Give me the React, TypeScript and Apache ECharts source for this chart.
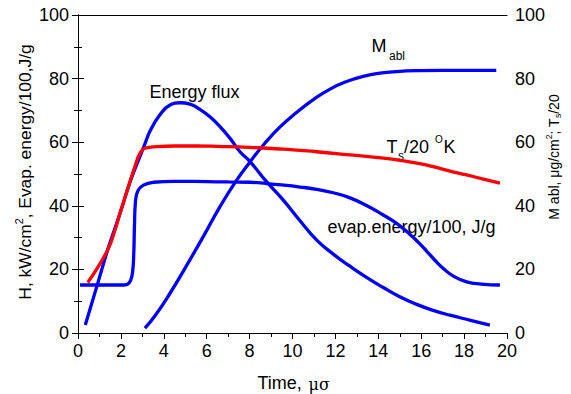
import React, { useEffect, useRef } from "react";
import * as echarts from "echarts";

const energyFluxX = [0.34, 0.92, 1.38, 1.65, 2.0, 2.35, 2.65, 2.89, 3.12, 3.36, 3.82, 4.29, 4.76, 5.22, 5.69, 6.15, 6.62, 7.09, 7.55, 8.02, 8.8, 9.57, 10.35, 11.13, 11.9, 12.68, 13.45, 14.23, 15.0, 15.79, 16.56, 17.34, 18.3, 19.2];
const energyFluxY = [2.5, 15.6, 26.1, 31.5, 38.5, 46, 51.5, 55.5, 59.5, 63.5, 68.6, 71.7, 72.4, 72.0, 70.3, 68.0, 64.9, 61.2, 57.0, 53.9, 47.5, 41.8, 35.3, 29.2, 24.8, 21.0, 17.5, 14.3, 11.4, 9.0, 7.1, 5.6, 4.0, 2.5];

const evapX = [0.09, 1.2, 2.1, 2.3, 2.45, 2.55, 2.6, 2.63, 2.68, 2.8, 3.05, 3.51, 4.5, 6.0, 7.0, 8.02, 8.8, 9.57, 10.35, 11.13, 11.9, 12.68, 13.45, 14.23, 14.85, 15.48, 15.87, 16.26, 16.65, 17.03, 17.5, 18.12, 18.8, 19.67];
const evapY = [15.1, 15.1, 15.1, 15.3, 16.5, 19.5, 25, 33, 41.5, 44.8, 46.5, 47.4, 47.7, 47.6, 47.5, 47.4, 47.0, 46.5, 45.9, 45.2, 44.1, 42.5, 40.1, 37.1, 34.5, 31.0, 28.5, 25.7, 22.8, 20.3, 17.9, 16.1, 15.4, 15.1];

const tsX = [0.45, 0.84, 1.38, 1.65, 2.0, 2.35, 2.66, 2.89, 3.12, 3.67, 4.5, 5.5, 6.5, 7.5, 8.02, 9.57, 10.35, 11.13, 12.68, 14.23, 15.01, 15.8, 16.56, 17.3, 18.12, 18.9, 19.67];
const tsY = [15.9, 19.8, 26.1, 30.8, 38.5, 46, 52.5, 56.5, 58.1, 58.6, 58.8, 58.8, 58.7, 58.5, 58.4, 57.8, 57.4, 57.0, 56.0, 55.0, 54.3, 53.4, 52.3, 51.0, 49.7, 48.4, 47.1];

const mablX = [3.12, 3.6, 4.29, 5.0, 5.84, 6.6, 7.35, 8.02, 8.7, 9.42, 10.2, 10.97, 11.75, 12.53, 13.3, 14.08, 14.86, 15.87, 17.0, 18.2, 19.5];
const mablY = [1.5, 5.5, 12.5, 20.5, 30.3, 39.5, 47.6, 53.8, 59.6, 64.8, 69.4, 73.4, 76.7, 79.1, 80.7, 81.7, 82.2, 82.5, 82.6, 82.6, 82.6];

const xTicks = [0, 2, 4, 6, 8, 10, 12, 14, 16, 18, 20];
const yTicks = [0, 20, 40, 60, 80, 100];

const leftTitleParts: [string, string][] = [["n", "H, kW/cm"], ["sup", "2"], ["n", ", Evap. energy/100,J/g"]];
const rightTitleParts: [string, string][] = [["n", "M abl, μg/cm"], ["sup", "2"], ["n", "; T"], ["sub", "s"], ["n", "/20"]];

const pair = (xs: number[], ys: number[]) => xs.map((x, i) => [x, ys[i]]);

const FONT = "'Liberation Sans', Arial, sans-serif";
const SERIF = "'DejaVu Serif', serif";

let measureCtx: CanvasRenderingContext2D | null = null;
function measure(text: string, size: number) {
  if (!measureCtx) measureCtx = document.createElement("canvas").getContext("2d");
  if (!measureCtx) return text.length * size * 0.55;
  measureCtx.font = `${size}px ${FONT}`;
  return measureCtx.measureText(text).width;
}

function rotatedTitle(cx: number, cy: number, parts: [string, string][], size: number) {
  const small = size * 0.62;
  const items = parts.map(([kind, t]) => {
    const s = kind === "n" ? size : small;
    return { kind, t, s, w: measure(t, s) };
  });
  const total = items.reduce((a, b) => a + b.w, 0);
  let pos = -total / 2;
  const children = items.map((it) => {
    const dy = it.kind === "sup" ? -size * 0.35 : it.kind === "sub" ? size * 0.32 : 0;
    const el = {
      type: "text",
      x: pos,
      y: dy,
      style: {
        text: it.t,
        fontSize: it.s,
        fontFamily: FONT,
        fontWeight: "normal",
        fill: "#000",
        textAlign: "left",
        align: "left",
        textVerticalAlign: "middle",
        verticalAlign: "middle",
      },
    };
    pos += it.w;
    return el;
  });
  return { type: "group", x: cx, y: cy, rotation: Math.PI / 2, children };
}

export default function App() {
  const ref = useRef<HTMLDivElement>(null);
  useEffect(() => {
    if (!ref.current) return;
    const chart = echarts.init(ref.current, undefined, { renderer: "svg" });
    const axisCommon = {
      type: "value" as const,
      min: 0,
      axisLine: { show: true, lineStyle: { color: "#000", width: 1 } },
      axisTick: { show: true, inside: false, length: 6, lineStyle: { color: "#000" } },
      minorTick: { show: true, splitNumber: 2, length: 4, lineStyle: { color: "#000" } },
      splitLine: { show: false },
      minorSplitLine: { show: false },
    };
    const labelCommon = { color: "#000", fontSize: 18, fontFamily: FONT };
    const lineSeries = (data: number[][], color: string, yIndex = 0) => ({
      type: "line",
      data,
      yAxisIndex: yIndex,
      smooth: 0.5,
      showSymbol: false,
      symbol: "none",
      lineStyle: { color, width: 3.3 },
      itemStyle: { color },
    });
    const txt = (x: number, y: number, text: string, size = 18, family = FONT) => ({
      type: "text",
      x,
      y,
      style: {
        text,
        fontSize: size,
        fontFamily: family,
        fontWeight: "normal",
        fill: "#000",
        textAlign: "left",
        align: "left",
        textVerticalAlign: "middle",
        verticalAlign: "middle",
      },
    });
    chart.setOption({
      animation: false,
      grid: { left: 78, right: 64, top: 15, bottom: 61 },
      xAxis: [
        {
          ...axisCommon,
          max: 20,
          interval: 2,
          position: "bottom",
          axisLabel: {
            ...labelCommon,
            margin: 9,
            formatter: (v: number) => (xTicks.includes(v) ? String(v) : ""),
          },
        },
        {
          type: "value",
          min: 0,
          max: 20,
          position: "top",
          axisLine: { show: true, onZero: false, lineStyle: { color: "#000", width: 1 } },
          axisTick: { show: false },
          axisLabel: { show: false },
          splitLine: { show: false },
        },
      ],
      yAxis: [
        {
          ...axisCommon,
          max: 100,
          interval: 20,
          position: "left",
          axisLabel: {
            ...labelCommon,
            margin: 9,
            formatter: (v: number) => (yTicks.includes(v) ? String(v) : ""),
          },
        },
        {
          ...axisCommon,
          max: 100,
          interval: 20,
          position: "right",
          axisLabel: {
            ...labelCommon,
            margin: 8,
            formatter: (v: number) => (yTicks.includes(v) ? String(v) : ""),
          },
        },
      ],
      series: [
        lineSeries(pair(evapX, evapY), "#0000ff"),
        lineSeries(pair(energyFluxX, energyFluxY), "#0000ff"),
        lineSeries(pair(mablX, mablY), "#0000ff", 1),
        lineSeries(pair(tsX, tsY), "#ff0000", 1),
      ],
      graphic: [
        txt(149.5, 92, "Energy flux"),
        txt(371.5, 46, "M"),
        txt(389, 56, "abl", 12),
        txt(386.5, 147, "T"),
        txt(398, 156, "s", 12),
        txt(404, 147, "/20"),
        txt(435, 139, "O", 10),
        txt(443.5, 147, "K"),
        txt(327.5, 227, "evap.energy/100, J/g"),
        txt(257.5, 383, "Time,"),
        txt(308.5, 384, "μσ", 16, SERIF),
        rotatedTitle(25, 172, leftTitleParts, 17.4),
        rotatedTitle(554, 157, rightTitleParts, 14),
      ],
    });
    return () => chart.dispose();
  }, []);
  return <div ref={ref} style={{ width: 571, height: 394, position: "absolute", left: 0, top: 0 }} />;
}
